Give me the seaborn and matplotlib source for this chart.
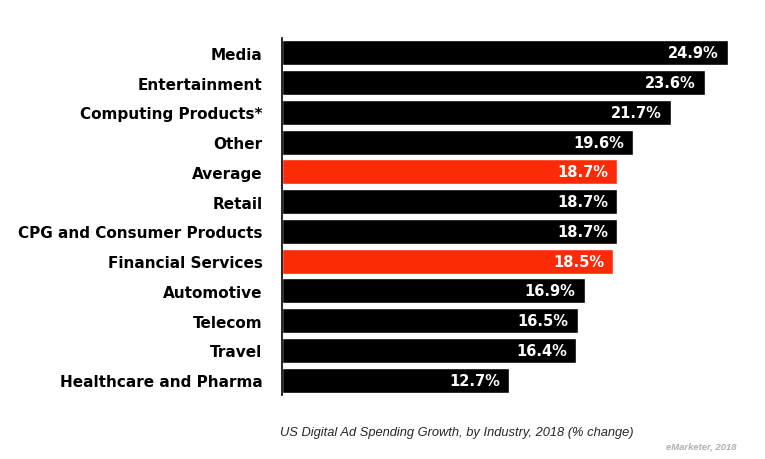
import matplotlib
matplotlib.use("Agg")
import matplotlib.pyplot as plt
import seaborn as sns
import pandas as pd

# data
industries = ["Media", "Entertainment", "Computing Products*", "Other", "Average",
              "Retail", "CPG and Consumer Products", "Financial Services",
              "Automotive", "Telecom", "Travel", "Healthcare and Pharma"]
growth = [24.9, 23.6, 21.7, 19.6, 18.7, 18.7, 18.7, 18.5, 16.9, 16.5, 16.4, 12.7]
highlight = ["Average", "Financial Services"]

df = pd.DataFrame({"Industry": industries, "Growth": growth})
df["Group"] = ["hi" if i in highlight else "lo" for i in industries]

sns.set_style("white")
plt.rcParams["font.family"] = ["Liberation Sans", "DejaVu Sans"]

fig = plt.figure(figsize=(7.65, 4.6), dpi=100)
ax = fig.add_axes([282 / 765, 1 - 396 / 460, (740 - 282) / 765, 357 / 460])

sns.barplot(data=df, x="Growth", y="Industry", hue="Group",
            palette={"hi": "#fd2a07", "lo": "#000000"}, order=industries,
            dodge=False, width=0.84, legend=False, ax=ax, saturation=1)

scale = (728 - 282) / 24.9
ax.set_xlim(0, (740 - 282) / scale)
ax.set_xlabel("")
ax.set_ylabel("")
ax.set_xticks([])
ax.tick_params(axis="y", length=0, pad=14, colors="black")
for lbl in ax.get_yticklabels():
    lbl.set_family("DejaVu Sans")
    lbl.set_fontweight("bold")
    lbl.set_fontsize(11)
for s in ["top", "right", "bottom"]:
    ax.spines[s].set_visible(False)
ax.spines["left"].set_color("black")
ax.spines["left"].set_linewidth(1.2)

for i, v in enumerate(growth):
    ax.annotate(f"{v}%", xy=(v, i), xytext=(-6.5, 0), textcoords="offset points",
                ha="right", va="center", color="white", fontweight="bold",
                fontsize=10.5, family="DejaVu Sans")

fig.text(280 / 765, 1 - 433 / 460,
         "US Digital Ad Spending Growth, by Industry, 2018 (% change)",
         ha="left", va="center", fontsize=9.3, style="italic")
fig.text(736 / 765, 1 - 447 / 460, "eMarketer, 2018", ha="right", va="center",
         fontsize=6.8, style="italic", fontweight="bold", color="#b0b0b0")

fig.savefig("out.png", dpi=100)
